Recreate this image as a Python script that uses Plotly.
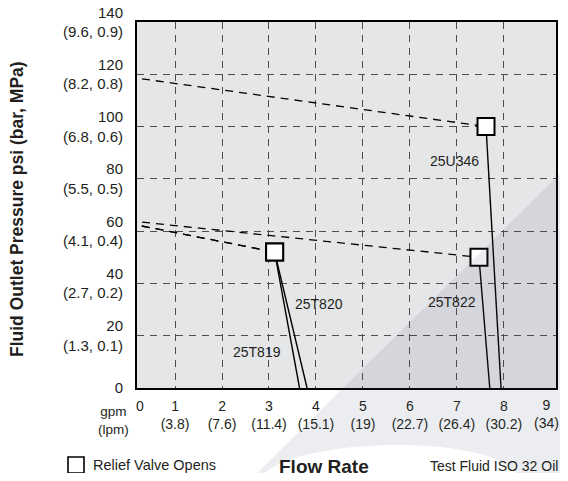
import plotly.graph_objects as go

# axis ticks and secondary unit labels
gpm_ticks = [1, 2, 3, 4, 5, 6, 7, 8, 9]
lpm_labels = ["3.8", "7.6", "11.4", "15.1", "19", "22.7", "26.4", "30.2", "34"]
psi_ticks = [0, 20, 40, 60, 80, 100, 120, 140]
bar_mpa_labels = ["", "1.3, 0.1", "2.7, 0.2", "4.1, 0.4", "5.5, 0.5", "6.8, 0.6", "8.2, 0.8", "9.6, 0.9"]

# pump models
models = ["25T819", "25T820", "25T822", "25U346"]
deadhead_psi = [63, 63, 64, 119]      # outlet pressure at zero flow
relief_gpm = [3.12, 3.12, 7.47, 7.62]  # point where relief valve opens
relief_psi = [52, 52, 50, 100]
max_flow_gpm = [3.65, 3.81, 7.70, 7.94]  # flow at zero pressure
label_gpm = [2.74, 4.06, 6.89, 6.95]
label_psi = [13.7, 32.1, 33.0, 86.8]

FONT = "Liberation Sans, Arial, Helvetica, sans-serif"
INK = "#231f20"

# page body has an 8px margin: keep the figure inside the window so nothing scrolls
OFF = 8
W, H = 568 - 2 * OFF, 481 - 2 * OFF
# plot area in page pixels: x 137..556, y 22..388
L, T = 137 - OFF, 22 - OFF
R, B = W - (556 - OFF), H - (388 - OFF)


def px(x, y):
    # page pixel -> paper coords
    x, y = x - OFF, y - OFF
    return (x - L) / (W - L - R), (H - B - y) / (H - T - B)


def note(x, y, text, size=14, xanchor="center", **kw):
    ax, ay = px(x, y)
    fig.add_annotation(x=ax, y=ay, xref="paper", yref="paper", text=text,
                       xanchor=xanchor, yanchor="middle", showarrow=False, borderpad=0,
                       font=dict(size=size, color=INK, family=FONT), **kw)


fig = go.Figure()

for i, m in enumerate(models):
    fig.add_trace(go.Scatter(
        x=[0, relief_gpm[i]], y=[deadhead_psi[i], relief_psi[i]],
        mode="lines", line=dict(color="black", width=1.3, dash="8px,6px"),
        showlegend=False, hoverinfo="skip"))
    fig.add_trace(go.Scatter(
        x=[relief_gpm[i], max_flow_gpm[i]], y=[relief_psi[i], 0],
        mode="lines", line=dict(color="black", width=1.4),
        showlegend=False, hoverinfo="skip"))

fig.add_trace(go.Scatter(
    x=relief_gpm, y=relief_psi, mode="markers", name="Relief Valve Opens",
    marker=dict(symbol="square", size=17, color="white",
                line=dict(color="black", width=2)),
    showlegend=False))

for i, m in enumerate(models):
    fig.add_annotation(x=label_gpm[i], y=label_psi[i], text=m, showarrow=False,
                       font=dict(size=14, color=INK, family=FONT))

# watermark band across the lower right
pts = [px(570, 164), px(570, 483), px(520, 483), px(515, 430),
       px(275, 435), px(257, 483), px(247, 483)]
path = ("M {0[0]},{0[1]} L {1[0]},{1[1]} L {2[0]},{2[1]} "
        "C {3[0]},{3[1]} {4[0]},{4[1]} {5[0]},{5[1]} L {6[0]},{6[1]} Z").format(*pts)
fig.add_shape(type="path", path=path, xref="paper", yref="paper",
              fillcolor="rgba(70,80,110,0.1)", line=dict(width=0), layer="above")

# key for the relief valve square
k0, k1 = px(68, 473), px(84, 457)
fig.add_shape(type="rect", xref="paper", yref="paper", x0=k0[0], y0=k0[1], x1=k1[0], y1=k1[1],
              fillcolor="white", line=dict(color="black", width=1.6))
note(92, 465, "Relief Valve Opens", size=14.5, xanchor="left")

# last x label nudged in so it is not cut by the window edge
nx, ny = px(0, 414)
fig.add_annotation(x=gpm_ticks[-1], y=ny, yref="paper", xshift=-4,
                   xanchor="center", yanchor="middle",
                   text=f"{gpm_ticks[-1]}<br>({lpm_labels[-1]})", showarrow=False,
                   borderpad=0, font=dict(size=14, color=INK, family=FONT))

# text outside the plot
note(113, 420, "gpm<br>(lpm)", size=13.5)
note(140, 406, "0")
note(17, 209, "<b>Fluid Outlet Pressure psi (bar, MPa)</b>", size=17.5, textangle=-90)
note(324, 466, "<b>Flow Rate</b>", size=19)
note(559, 466, "Test Fluid ISO 32 Oil", xanchor="right")

grid = dict(showgrid=True, gridcolor="#4d4d4d", gridwidth=1, griddash="7px,6px", ticks="")

fig.update_layout(
    width=W, height=H,
    margin=dict(l=L, r=R, t=T, b=B, autoexpand=False),
    paper_bgcolor="white", plot_bgcolor="#e5e6e8",
    font=dict(family=FONT, size=14, color=INK),
    showlegend=False,
    xaxis=dict(range=[0.19, 9.11], tickmode="array", tickvals=gpm_ticks[:-1],
               ticktext=[f"{g}<br>({l})" for g, l in zip(gpm_ticks[:-1], lpm_labels[:-1])],
               showgrid=False, zeroline=False, ticks="", automargin=False,
               tickfont=dict(size=14), ticklabelstandoff=4, ticklabeloverflow="allow",
               showline=True, linecolor="black", linewidth=2, mirror=True,
               minor=dict(tickmode="array", tickvals=gpm_ticks[:-1], **grid)),
    yaxis=dict(range=[0, 140], tickmode="array", tickvals=psi_ticks,
               ticktext=[str(p) if not b else f"{p}<br>({b})" for p, b in zip(psi_ticks, bar_mpa_labels)],
               showgrid=False, zeroline=False, ticks="", ticklabelstandoff=9,
               tickfont=dict(size=15), automargin=False, ticklabeloverflow="allow",
               showline=True, linecolor="black", linewidth=2, mirror=True,
               minor=dict(tickmode="array", tickvals=psi_ticks[1:-1], **grid)),
)

fig.write_html("out.html")
